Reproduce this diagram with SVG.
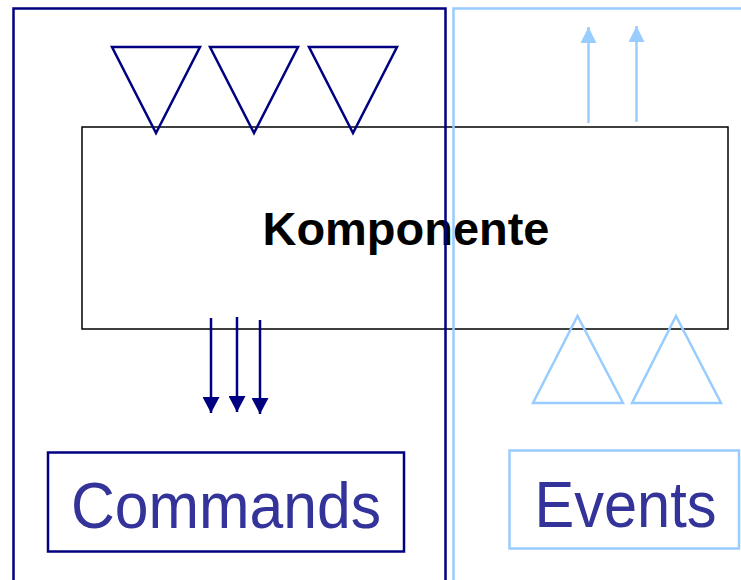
<svg xmlns="http://www.w3.org/2000/svg" width="741" height="580" viewBox="0 0 741 580">
  <style>
    .navy { fill: none; stroke: #000080; stroke-width: 2.5; }
    .sky { fill: none; stroke: #99CCFF; stroke-width: 2.5; }
    .cmd { stroke: #000080; stroke-width: 2.5; }
    .evt { stroke: #99CCFF; stroke-width: 2.5; }
    .label { font-family: "Liberation Sans", Arial, sans-serif; font-size: 64px; fill: #333399; }
    .title { font-family: "Liberation Sans", Arial, sans-serif; font-size: 47px; font-weight: bold; fill: #000000; }
  </style>
  <defs>
    <!-- arrowheads drawn along +x, tip at the line end -->
    <marker id="headNavy" markerWidth="16" markerHeight="17" refX="16" refY="8.5" orient="auto" markerUnits="userSpaceOnUse" viewBox="0 0 16 17">
      <path d="M0,0 L16,8.5 L0,17 Z" fill="#000080"/>
    </marker>
    <marker id="headSky" markerWidth="16" markerHeight="16" refX="16" refY="8" orient="auto" markerUnits="userSpaceOnUse" viewBox="0 0 16 16">
      <path d="M0,0 L16,8 L0,16 Z" fill="#99CCFF"/>
    </marker>
  </defs>

  <rect width="741" height="580" fill="#ffffff"/>

  <!-- central component box -->
  <g id="komponente">
    <rect x="82" y="127" width="646" height="202" fill="#ffffff" stroke="#000000" stroke-width="1.5"/>
    <text class="title" x="262.5" y="245" textLength="287" lengthAdjust="spacingAndGlyphs">Komponente</text>
  </g>

  <!-- command side panel -->
  <g id="panel-commands">
    <path class="navy" d="M13.5,590 L13.5,8.5 L445.5,8.5 L445.5,590"/>
  </g>

  <!-- event side panel -->
  <g id="panel-events">
    <path class="sky" d="M453.5,590 L453.5,8.5 L750,8.5"/>
  </g>

  <!-- incoming command ports -->
  <g id="command-ports">
    <polygon class="navy" points="112,47 200,47 156,133"/>
    <polygon class="navy" points="210,47 298,47 254,133"/>
    <polygon class="navy" points="309,47 397,47 353,133"/>
  </g>

  <!-- incoming event ports -->
  <g id="event-ports">
    <polygon class="sky" points="533,403 623,403 577.5,316"/>
    <polygon class="sky" points="632,403 721,403 676,316"/>
  </g>

  <g id="connectors">
    <!-- outgoing commands -->
    <line class="cmd" x1="211" y1="318" x2="211" y2="413" marker-end="url(#headNavy)"/>
    <line class="cmd" x1="237" y1="317" x2="237" y2="412" marker-end="url(#headNavy)"/>
    <line class="cmd" x1="260" y1="320" x2="260" y2="414" marker-end="url(#headNavy)"/>
    <!-- outgoing events -->
    <line class="evt" x1="588.5" y1="123" x2="588.5" y2="27" marker-end="url(#headSky)"/>
    <line class="evt" x1="636.5" y1="122" x2="636.5" y2="26" marker-end="url(#headSky)"/>
  </g>

  <g id="commands">
    <rect class="navy" x="48" y="452.5" width="356" height="99"/>
    <text class="label" x="71" y="528" textLength="310" lengthAdjust="spacingAndGlyphs">Commands</text>
  </g>

  <g id="events">
    <rect class="sky" x="509.5" y="450.5" width="229.5" height="98"/>
    <text class="label" x="534.5" y="527" textLength="182" lengthAdjust="spacingAndGlyphs">Events</text>
  </g>
</svg>
